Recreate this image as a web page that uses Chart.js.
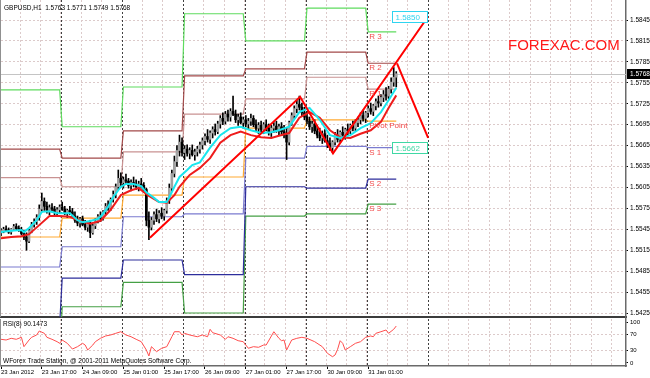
<!DOCTYPE html>
<html>
<head>
<meta charset="utf-8">
<title>GBPUSD H1</title>
<script src="https://cdn.jsdelivr.net/npm/chart.js@4.4.1/dist/chart.umd.min.js"></script>
<style>
  body { margin: 0; background: #fff; }
  #wrap { position: relative; width: 650px; height: 378px; overflow: hidden; }
  canvas { position: absolute; left: 0; }
  #priceChart { top: 0; }
  #rsiChart { top: 318px; }
</style>
</head>
<body>
<div id="wrap">
  <canvas id="priceChart" width="650" height="318"></canvas>
  <canvas id="rsiChart" width="650" height="60"></canvas>
</div>
<script>
const symbol = "GBPUSD,H1";

// hourly candles, 23 Jan 00:00 .. 31 Jan 11:00
const opens = [
  1.5540,1.5543,1.5545,1.5544,1.5541,1.5545,1.5549,1.5546,1.5544,1.5539,
  1.5534,1.5528,1.5543,1.5552,1.5556,1.5562,1.5574,1.5585,1.5578,1.5572,
  1.5576,1.5574,1.5570,1.5573,1.5577,1.5574,1.5568,1.5572,1.5570,1.5564,
  1.5558,1.5554,1.5560,1.5552,1.5548,1.5554,1.5540,1.5550,1.5557,1.5563,
  1.5560,1.5570,1.5578,1.5575,1.5588,1.5595,1.5606,1.5618,1.5612,1.5616,
  1.5614,1.5608,1.5612,1.5610,1.5606,1.5610,1.5608,1.5602,1.5558,1.5548,
  1.5558,1.5566,1.5560,1.5568,1.5564,1.5572,1.5586,1.5604,1.5625,1.5642,
  1.5658,1.5670,1.5655,1.5660,1.5654,1.5658,1.5652,1.5656,1.5660,1.5666,
  1.5672,1.5678,1.5674,1.5683,1.5688,1.5685,1.5696,1.5704,1.5700,1.5710,
  1.5706,1.5714,1.5710,1.5702,1.5706,1.5698,1.5702,1.5696,1.5700,1.5704,
  1.5695,1.5690,1.5694,1.5688,1.5695,1.5690,1.5684,1.5690,1.5693,1.5687,
  1.5692,1.5685,1.5680,1.5670,1.5698,1.5708,1.5718,1.5724,1.5720,1.5712,
  1.5706,1.5700,1.5692,1.5696,1.5686,1.5680,1.5676,1.5682,1.5672,1.5668,
  1.5662,1.5670,1.5680,1.5674,1.5684,1.5680,1.5688,1.5686,1.5694,1.5690,
  1.5698,1.5702,1.5708,1.5704,1.5712,1.5718,1.5714,1.5722,1.5728,1.5726,
  1.5734,1.5738,1.5736,1.5746,1.5756,1.5763
];
const highs = [
  1.5546,1.5548,1.5550,1.5547,1.5546,1.5552,1.5553,1.5550,1.5548,1.5544,
  1.5540,1.5545,1.5555,1.5560,1.5566,1.5580,1.5597,1.5590,1.5584,1.5580,
  1.5582,1.5578,1.5576,1.5580,1.5584,1.5578,1.5574,1.5578,1.5575,1.5570,
  1.5564,1.5562,1.5564,1.5558,1.5556,1.5558,1.5552,1.5560,1.5566,1.5570,
  1.5572,1.5582,1.5586,1.5590,1.5600,1.5610,1.5630,1.5626,1.5620,1.5624,
  1.5618,1.5616,1.5620,1.5616,1.5614,1.5618,1.5612,1.5604,1.5570,1.5562,
  1.5570,1.5574,1.5572,1.5576,1.5574,1.5590,1.5610,1.5630,1.5650,1.5665,
  1.5680,1.5676,1.5665,1.5666,1.5662,1.5666,1.5660,1.5664,1.5670,1.5676,
  1.5682,1.5688,1.5686,1.5692,1.5696,1.5700,1.5708,1.5712,1.5714,1.5716,
  1.5718,1.5736,1.5716,1.5710,1.5712,1.5706,1.5708,1.5704,1.5710,1.5708,
  1.5702,1.5698,1.5700,1.5698,1.5702,1.5696,1.5694,1.5698,1.5700,1.5696,
  1.5698,1.5694,1.5690,1.5700,1.5712,1.5722,1.5730,1.5736,1.5726,1.5720,
  1.5714,1.5706,1.5700,1.5702,1.5694,1.5690,1.5686,1.5688,1.5680,1.5676,
  1.5672,1.5684,1.5688,1.5686,1.5692,1.5690,1.5696,1.5696,1.5700,1.5702,
  1.5706,1.5712,1.5716,1.5714,1.5722,1.5726,1.5724,1.5732,1.5736,1.5738,
  1.5744,1.5748,1.5750,1.5762,1.5777,1.5771
];
const lows = [
  1.5536,1.5540,1.5542,1.5539,1.5538,1.5543,1.5544,1.5542,1.5537,1.5530,
  1.5515,1.5526,1.5540,1.5548,1.5552,1.5558,1.5570,1.5572,1.5568,1.5566,
  1.5570,1.5566,1.5564,1.5568,1.5572,1.5566,1.5562,1.5566,1.5562,1.5555,
  1.5550,1.5548,1.5550,1.5544,1.5542,1.5533,1.5538,1.5546,1.5554,1.5556,
  1.5558,1.5566,1.5572,1.5572,1.5584,1.5590,1.5602,1.5608,1.5604,1.5610,
  1.5604,1.5600,1.5606,1.5602,1.5600,1.5604,1.5598,1.5550,1.5530,1.5544,
  1.5552,1.5556,1.5554,1.5560,1.5558,1.5568,1.5582,1.5600,1.5620,1.5635,
  1.5650,1.5650,1.5645,1.5650,1.5646,1.5650,1.5644,1.5650,1.5654,1.5660,
  1.5666,1.5670,1.5668,1.5676,1.5680,1.5682,1.5690,1.5695,1.5696,1.5700,
  1.5700,1.5708,1.5698,1.5694,1.5696,1.5690,1.5692,1.5688,1.5694,1.5692,
  1.5686,1.5682,1.5684,1.5682,1.5686,1.5680,1.5678,1.5684,1.5684,1.5680,
  1.5682,1.5676,1.5645,1.5666,1.5694,1.5704,1.5712,1.5716,1.5708,1.5702,
  1.5696,1.5688,1.5684,1.5682,1.5676,1.5672,1.5668,1.5670,1.5662,1.5658,
  1.5655,1.5666,1.5670,1.5670,1.5676,1.5674,1.5680,1.5682,1.5686,1.5686,
  1.5692,1.5696,1.5700,1.5698,1.5706,1.5710,1.5708,1.5716,1.5720,1.5722,
  1.5728,1.5730,1.5732,1.5740,1.5750,1.5749
];
const closes = [
  1.5543,1.5545,1.5544,1.5541,1.5545,1.5549,1.5546,1.5544,1.5539,1.5534,
  1.5528,1.5543,1.5552,1.5556,1.5562,1.5574,1.5585,1.5578,1.5572,1.5576,
  1.5574,1.5570,1.5573,1.5577,1.5574,1.5568,1.5572,1.5570,1.5564,1.5558,
  1.5554,1.5560,1.5552,1.5548,1.5554,1.5540,1.5550,1.5557,1.5563,1.5560,
  1.5570,1.5578,1.5575,1.5588,1.5595,1.5606,1.5618,1.5612,1.5616,1.5614,
  1.5608,1.5612,1.5610,1.5606,1.5610,1.5608,1.5602,1.5558,1.5548,1.5558,
  1.5566,1.5560,1.5568,1.5564,1.5572,1.5586,1.5604,1.5625,1.5642,1.5658,
  1.5670,1.5655,1.5660,1.5654,1.5658,1.5652,1.5656,1.5660,1.5666,1.5672,
  1.5678,1.5674,1.5683,1.5688,1.5685,1.5696,1.5704,1.5700,1.5710,1.5706,
  1.5714,1.5710,1.5702,1.5706,1.5698,1.5702,1.5696,1.5700,1.5704,1.5695,
  1.5690,1.5694,1.5688,1.5695,1.5690,1.5684,1.5690,1.5693,1.5687,1.5692,
  1.5685,1.5680,1.5670,1.5698,1.5708,1.5718,1.5724,1.5720,1.5712,1.5706,
  1.5700,1.5692,1.5696,1.5686,1.5680,1.5676,1.5682,1.5672,1.5668,1.5662,
  1.5670,1.5680,1.5674,1.5684,1.5680,1.5688,1.5686,1.5694,1.5690,1.5698,
  1.5702,1.5708,1.5704,1.5712,1.5718,1.5714,1.5722,1.5728,1.5726,1.5734,
  1.5738,1.5736,1.5746,1.5756,1.5763,1.5768
];

// moving averages (bar index / price)
const fastMaBars = [0,4,8,9,11,14,16,19,22,24,27,30,32,35,38,39,42,44,47,49,52,55,57,60,62,65,66,68,70,73,75,78,82,86,90,94,98,102,106,109,113,117,121,125,129,133,137,141,145,149,152,155];
const fastMaValues = [1.5541,1.5543,1.5544,1.5541,1.5547,1.5558,1.5570,1.5571,1.5568,1.5568,1.5568,1.5558,1.5555,1.5557,1.5560,1.5563,1.5577,1.5591,1.5606,1.5610,1.5610,1.5607,1.5598,1.5590,1.5584,1.5584,1.5591,1.5606,1.5620,1.5630,1.5637,1.5641,1.5662,1.5680,1.5690,1.5692,1.5687,1.5683,1.5684,1.5687,1.5692,1.5713,1.5719,1.5702,1.5680,1.5676,1.5680,1.5690,1.5697,1.5713,1.5730,1.5748];
const slowMaBars = [0,4,8,11,15,19,23,27,31,35,39,43,47,51,54,58,62,65,68,70,74,78,82,86,90,94,98,102,106,109,113,117,121,125,129,133,137,141,145,149,152,155];
const slowMaValues = [1.5532,1.5534,1.5535,1.5538,1.5551,1.5564,1.5564,1.5563,1.5557,1.5553,1.5557,1.5573,1.5594,1.5601,1.5604,1.5593,1.5584,1.5583,1.5594,1.5606,1.5623,1.5633,1.5647,1.5669,1.5680,1.5685,1.5680,1.5677,1.5676,1.5679,1.5683,1.5705,1.5713,1.5705,1.5687,1.5677,1.5676,1.5682,1.5687,1.5699,1.5719,1.5737];

// daily pivot levels, one value per trading day
const dayStarts = [0, 24, 48, 72, 96, 120, 144];
const daySeparators = [23.5, 47.5, 71.5, 95.5, 119.5, 143.5, 167.5];
const pivotNames = ["R 3", "R 2", "R 1", "Pivot Point", "S 1", "S 2", "S 3"];
const r3 = [1.5745, 1.5692, 1.5749, 1.5854, 1.5815, 1.5862, 1.5828];
const r2 = [1.5660, 1.5647, 1.5686, 1.5765, 1.5775, 1.5799, 1.5783];
const r1 = [1.5619, 1.5606, 1.5656, 1.5710, 1.5732, 1.5763, 1.5746];
const pp = [1.5534, 1.5561, 1.5594, 1.5620, 1.5690, 1.5702, 1.5700];
const s1 = [1.5491, 1.5520, 1.5563, 1.5567, 1.5647, 1.5664, 1.5662];
const s2 = [1.5408, 1.5475, 1.5501, 1.5480, 1.5606, 1.5604, 1.5617];
const s3 = [1.5365, 1.5434, 1.5469, 1.5425, 1.5564, 1.5567, 1.5581];

// hand-drawn pattern lines and their price targets
const zigzagBars = [58.4, 117.3, 130.2, 167.5];
const zigzagPrices = [1.5533, 1.5735, 1.5654, 1.5850];
const projBars = [155.3, 167.5];
const projPrices = [1.5783, 1.5676];
const targetPrices = [1.5850, 1.5662];

// RSI(8)
const rsiBars = [0,2,4,6,8,9,11,12,14,15,17,18,20,22,23,24,26,28,30,32,33,34,36,37,39,41,43,45,47,49,51,53,55,57,58,59,61,63,65,67,68,70,71,72,74,77,79,81,82,83,86,88,89,91,93,95,97,99,101,103,104,107,109,110,111,112,114,116,118,120,123,126,128,130,131,132,133,134,135,137,139,141,143,145,146,147,149,151,152,154,155];
const rsiValues = [57.8,56.1,60.2,57.8,62.7,39.8,56.1,62.7,68.3,78.0,72.4,62.7,57.8,52.0,48.0,56.1,48.0,34.1,39.8,48.0,43.9,31.7,43.9,52.0,60.2,65.9,68.3,72.4,76.3,68.3,64.1,57.8,52.0,31.7,17.1,39.8,27.6,35.9,39.8,64.1,76.3,76.3,68.3,72.4,68.3,64.1,68.3,64.1,82.2,73.9,68.3,57.8,64.1,60.2,54.4,52.0,35.9,39.8,38.3,43.9,43.9,76.3,60.2,54.4,56.1,31.7,56.1,60.2,62.7,60.2,52.0,39.8,23.7,15.4,19.5,33.4,54.4,48.0,31.7,39.8,48.0,52.0,62.7,65.9,64.1,72.4,76.3,80.5,72.4,82.2,90.1473];

const priceTicks = [1.5845,1.5815,1.5785,1.5755,1.5725,1.5695,1.5665,1.5635,1.5605,1.5575,1.5545,1.5515,1.5485,1.5455,1.5425];
const rsiTicks = [100, 70, 30, 0];
const rsiLevels = [70, 30];
const timeLabelBars = [0, 16, 32, 48, 64, 80, 96, 112, 128, 144];
const timeLabels = ["23 Jan 2012", "23 Jan 17:00", "24 Jan 09:00", "25 Jan 01:00", "25 Jan 17:00", "26 Jan 09:00", "27 Jan 01:00", "27 Jan 17:00", "30 Jan 09:00", "31 Jan 01:00"];

const FONT = "'Liberation Sans', Arial, sans-serif";
const GRID = "#dccaca";
const X_MIN = 0, X_MAX = 245.1;
const lastBar = closes.length - 1;
const gridBars = [];
for (let b = 7.5; b < X_MAX; b += 8) gridBars.push(b);

Chart.defaults.font.family = FONT;

function pts(xs, ys) {
  return xs.map((x, i) => ({ x: x, y: ys[i] }));
}

function stepPoints(levels) {
  const out = [];
  levels.forEach((v, s) => {
    const a = dayStarts[s];
    const b = s < levels.length - 1 ? dayStarts[s + 1] - 1 : lastBar;
    out.push({ x: a, y: v }, { x: b, y: v });
  });
  return out;
}

function lineSet(data, color, width, order) {
  return {
    type: "line", data: data, borderColor: color, borderWidth: width,
    pointRadius: 0, pointHoverRadius: 0, pointHitRadius: 0, pointBorderWidth: 0,
    tension: 0, fill: false, order: order
  };
}

const barIdx = closes.map((_, i) => i);
const wicks = barIdx.map(i => ({ x: i, y: [lows[i], highs[i]] }));
const bodies = barIdx.map(i => ({ x: i, y: [opens[i], closes[i]] }));
const bodyColors = barIdx.map(i => (closes[i] >= opens[i] ? "#a2a2a2" : "#000000"));

const pivotSets = [r3, r2, r1, pp, s1, s2, s3];
const pivotColors = ["#5fdc5f", "#a34a4a", "#c99292", "#ffaa33", "#7b7bd0", "#2e2e9c", "#45a045"];

// day separators (dotted), shared by both panes
const separators = {
  id: "separators",
  beforeDatasetsDraw(chart) {
    const { ctx, chartArea: a, scales: { x } } = chart;
    ctx.save();
    ctx.strokeStyle = "#404040";
    ctx.lineWidth = 1;
    ctx.setLineDash([2, 2]);
    daySeparators.forEach(b => {
      const px = Math.round(x.getPixelForValue(b)) + 0.5;
      ctx.beginPath();
      ctx.moveTo(px, a.top);
      ctx.lineTo(px, a.bottom);
      ctx.stroke();
    });
    ctx.restore();
  }
};

const priceDecor = {
  id: "priceDecor",
  beforeDatasetsDraw(chart) {
    const { ctx, chartArea: a, scales: { y } } = chart;
    const py = Math.round(y.getPixelForValue(closes[lastBar])) + 0.5;
    ctx.save();
    ctx.strokeStyle = "#c4c4c4";
    ctx.lineWidth = 1;
    ctx.beginPath();
    ctx.moveTo(a.left, py);
    ctx.lineTo(a.right, py);
    ctx.stroke();
    // left frame
    ctx.strokeStyle = "#909090";
    ctx.beginPath();
    ctx.moveTo(0.5, a.top);
    ctx.lineTo(0.5, a.bottom);
    ctx.stroke();
    ctx.restore();
  },
  afterDraw(chart) {
    const { ctx, chartArea: a, scales: { x, y } } = chart;
    ctx.save();
    ctx.textBaseline = "top";
    ctx.fillStyle = "#000";
    ctx.font = "6.5px " + FONT;
    const f = v => v.toFixed(4);
    ctx.fillText(symbol + "  " + f(opens[lastBar]) + " " + f(highs[lastBar]) + " " +
      f(lows[lastBar]) + " " + f(closes[lastBar]), 4, 5);

    ctx.fillStyle = "#ff1a1a";
    ctx.font = "15px " + FONT;
    ctx.fillText("FOREXAC.COM", 508, 38);

    // pivot names on the current day
    ctx.font = "8px " + FONT;
    ctx.fillStyle = "#f24a4a";
    const lx = x.getPixelForValue(dayStarts[dayStarts.length - 1]) + 1;
    pivotSets.forEach((lv, k) => {
      ctx.fillText(pivotNames[k], lx, y.getPixelForValue(lv[lv.length - 1]) + 1);
    });

    // target price labels
    const boxColors = ["#2fd4f0", "#3fd8a4"];
    const right = Math.round(x.getPixelForValue(zigzagBars[zigzagBars.length - 1])) - 0.5;
    ctx.textBaseline = "middle";
    targetPrices.forEach((p, k) => {
      const cy = Math.round(y.getPixelForValue(p));
      ctx.fillStyle = "#fff";
      ctx.fillRect(right - 35, cy - 5.5, 35, 11);
      ctx.strokeStyle = boxColors[k];
      ctx.lineWidth = 1;
      ctx.strokeRect(right - 35, cy - 5.5, 35, 11);
      ctx.fillStyle = boxColors[k];
      ctx.fillText(p.toFixed(4), right - 32, cy + 0.5);
    });

    // bid label on the price axis
    const by = Math.round(y.getPixelForValue(closes[lastBar]));
    ctx.fillStyle = "#000";
    ctx.fillRect(a.right + 1, by - 5, 650 - a.right - 1, 10);
    ctx.fillStyle = "#fff";
    ctx.font = "6.5px " + FONT;
    ctx.fillText(f(closes[lastBar]), a.right + 4, by + 0.5);
    ctx.restore();
  }
};

const rsiDecor = {
  id: "rsiDecor",
  afterDraw(chart) {
    const { ctx, chartArea: a } = chart;
    ctx.save();
    ctx.strokeStyle = "#909090";
    ctx.lineWidth = 1;
    ctx.beginPath();
    ctx.moveTo(0.5, a.top);
    ctx.lineTo(0.5, a.bottom);
    ctx.stroke();
    ctx.textBaseline = "top";
    ctx.fillStyle = "#000";
    ctx.font = "6.5px " + FONT;
    ctx.fillText("RSI(8) " + rsiValues[rsiValues.length - 1].toFixed(4), 3, 3);
    ctx.fillText("WForex Trade Station, @ 2001-2011 MetaQuotes Software Corp.", 3, 40);
    ctx.restore();
  }
};

const baseOptions = {
  responsive: false,
  animation: false,
  devicePixelRatio: 1,
  events: [],
  plugins: { legend: { display: false }, tooltip: { enabled: false } }
};

const priceChart = new Chart(document.getElementById("priceChart"), {
  type: "line",
  data: {
    datasets: [
      lineSet(pts(zigzagBars, zigzagPrices), "#ff0000", 2, 0),
      lineSet(pts(projBars, projPrices), "#ff0000", 2, 0),
      lineSet(pts(fastMaBars, fastMaValues), "#19e6ee", 2, 1),
      lineSet(pts(slowMaBars, slowMaValues), "#ee1c1c", 2, 2),
      { type: "bar", data: bodies, backgroundColor: bodyColors, barThickness: 2,
        minBarLength: 1, grouped: false, order: 3 },
      { type: "bar", data: wicks, backgroundColor: "#000", barThickness: 1,
        grouped: false, order: 4 },
      ...pivotSets.map((lv, k) => lineSet(stepPoints(lv), pivotColors[k], 1.2, 5 + k))
    ]
  },
  options: {
    ...baseOptions,
    layout: { autoPadding: false, padding: { left: 1, top: 0, right: 0, bottom: 1 } },
    scales: {
      x: {
        type: "linear", min: X_MIN, max: X_MAX, offset: false,
        afterBuildTicks: s => { s.ticks = gridBars.map(v => ({ value: v })); },
        afterFit: s => { s.height = 0; s.paddingLeft = 0; s.paddingRight = 0; },
        ticks: { display: false },
        grid: { color: GRID, lineWidth: 1, drawTicks: false, offset: false },
        border: { display: true, color: "#3c3c3c", width: 2, dash: [2, 2] }
      },
      y: {
        position: "right", min: 1.54193, max: 1.58737,
        afterBuildTicks: s => { s.ticks = priceTicks.map(v => ({ value: v })); },
        afterFit: s => { s.width = 24; s.paddingTop = 0; s.paddingBottom = 0; },
        ticks: { autoSkip: false, color: "#000", padding: 2,
          font: { size: 6.5 }, callback: v => v.toFixed(4) },
        grid: { color: GRID, lineWidth: 1, tickColor: "#000", tickLength: 2 },
        border: { color: "#6a6a6a", width: 1.5, dash: [2, 2] }
      }
    }
  },
  plugins: [separators, priceDecor]
});

const rsiXTicks = gridBars.concat(timeLabelBars).sort((a, b) => a - b);
const isLabelBar = v => timeLabelBars.indexOf(v) >= 0;

const rsiChart = new Chart(document.getElementById("rsiChart"), {
  type: "line",
  data: {
    datasets: [lineSet(pts(rsiBars, rsiValues), "#ff4d4d", 1, 0)]
  },
  options: {
    ...baseOptions,
    layout: { autoPadding: false, padding: { left: 1, top: 1, right: 0, bottom: 0 } },
    scales: {
      x: {
        type: "linear", min: X_MIN, max: X_MAX, offset: false,
        afterBuildTicks: s => { s.ticks = rsiXTicks.map(v => ({ value: v })); },
        afterFit: s => { s.height = 12; s.paddingLeft = 0; s.paddingRight = 0; },
        ticks: {
          autoSkip: false, maxRotation: 0, minRotation: 0, align: "start",
          padding: 0, color: "#000", font: { size: 6 },
          callback: v => (isLabelBar(v) ? timeLabels[timeLabelBars.indexOf(v)] : "")
        },
        grid: {
          color: c => (c.tick && isLabelBar(c.tick.value) ? "rgba(0,0,0,0)" : GRID),
          tickColor: c => (c.tick && isLabelBar(c.tick.value) ? "#000" : "rgba(0,0,0,0)"),
          tickLength: 3, lineWidth: 1, offset: false
        },
        border: { display: true, color: "#6a6a6a", width: 1.5, dash: [2, 2] }
      },
      y: {
        position: "right", min: -7.32, max: 107.32,
        afterBuildTicks: s => { s.ticks = rsiTicks.map(v => ({ value: v })); },
        afterFit: s => { s.width = 24; s.paddingTop = 0; s.paddingBottom = 0; },
        ticks: { autoSkip: false, color: "#000", padding: 2, font: { size: 6 } },
        grid: {
          color: c => (c.tick && rsiLevels.indexOf(c.tick.value) >= 0 ? GRID : "rgba(0,0,0,0)"),
          tickColor: "#000", tickLength: 2
        },
        border: { color: "#6a6a6a", width: 1.5, dash: [2, 2] }
      }
    }
  },
  plugins: [separators, rsiDecor]
});
</script>
</body>
</html>
